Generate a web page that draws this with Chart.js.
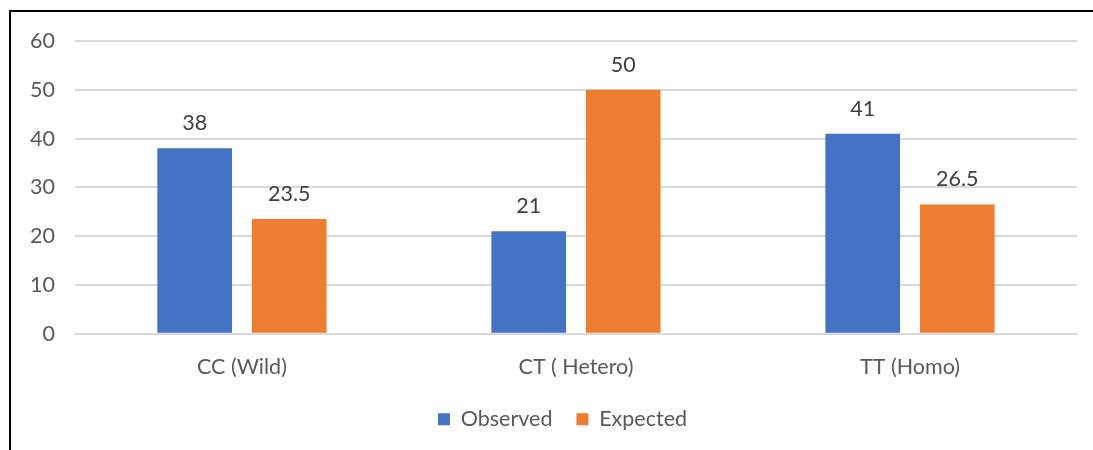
<!DOCTYPE html>
<html>
<head>
<meta charset="utf-8">
<script src="https://cdn.jsdelivr.net/npm/chart.js@4"></script>
<style>
  html, body { margin: 0; padding: 0; background: #fff; overflow: hidden; }
  #frame { position: absolute; left: 9px; top: 10px; width: 2000px; height: 2000px; border: 2px solid #000; }
  #chart { position: absolute; left: 0; top: 0; }
</style>
</head>
<body>
<div id="frame"></div>
<canvas id="chart" width="1093" height="450"></canvas>
<script>
// genotipos y conteos
const categorias = ['CC (Wild)', 'CT ( Hetero)', 'TT (Homo)'];
const observados = [38, 21, 41];
const esperados  = [23.5, 50, 26.5];
const ticksY     = [0, 10, 20, 30, 40, 50, 60];

const FUENTE = 'Lato, "Open Sans", sans-serif';
const TAM = 21.5;

// etiquetas encima de cada barra
const etiquetas = {
    id: 'etiquetas',
    afterDatasetsDraw(chart) {
        const ctx = chart.ctx;
        ctx.save();
        ctx.font = TAM + 'px ' + FUENTE;
        ctx.fillStyle = '#404040';
        ctx.textAlign = 'center';
        ctx.textBaseline = 'middle';
        chart.data.datasets.forEach((ds, i) => {
            chart.getDatasetMeta(i).data.forEach((bar, j) => {
                ctx.fillText(String(ds.data[j]), bar.x, bar.y - 25);
            });
        });
        ctx.restore();
    }
};

// la leyenda del original está algo a la derecha del centro
const moverLeyenda = {
    id: 'moverLeyenda',
    afterLayout(chart) {
        chart.legend.left += 19;
        chart.legend.right += 19;
    }
};

new Chart(document.getElementById('chart').getContext('2d'), {
    type: 'bar',
    data: {
        labels: categorias,
        datasets: [
            { label: 'Observed', data: observados, backgroundColor: '#4472C4' },
            { label: 'Expected', data: esperados,  backgroundColor: '#ED7D31' }
        ]
    },
    options: {
        responsive: false,
        animation: false,
        categoryPercentage: 0.566,
        barPercentage: 0.79,
        layout: { padding: { left: 10, right: 16, top: 41, bottom: 10 } },
        plugins: {
            tooltip: { enabled: false },
            legend: {
                position: 'bottom',
                labels: {
                    font: { family: FUENTE, size: TAM },
                    color: '#595959',
                    boxWidth: 12,
                    boxHeight: 12,
                    padding: 24
                }
            }
        },
        scales: {
            x: {
                grid: { display: false, drawTicks: false },
                border: { color: '#d9d9d9', width: 2 },
                ticks: { font: { family: FUENTE, size: TAM }, color: '#595959', padding: 20 },
                afterFit: axis => { axis.height -= 15; }
            },
            y: {
                min: 0,
                max: 60,
                afterBuildTicks: axis => { axis.ticks = ticksY.map(v => ({ value: v })); },
                grid: { color: '#d9d9d9', lineWidth: 2, drawTicks: false },
                border: { display: false },
                ticks: { font: { family: FUENTE, size: TAM }, color: '#595959', padding: 20 }
            }
        }
    },
    plugins: [etiquetas, moverLeyenda]
});
</script>
</body>
</html>
